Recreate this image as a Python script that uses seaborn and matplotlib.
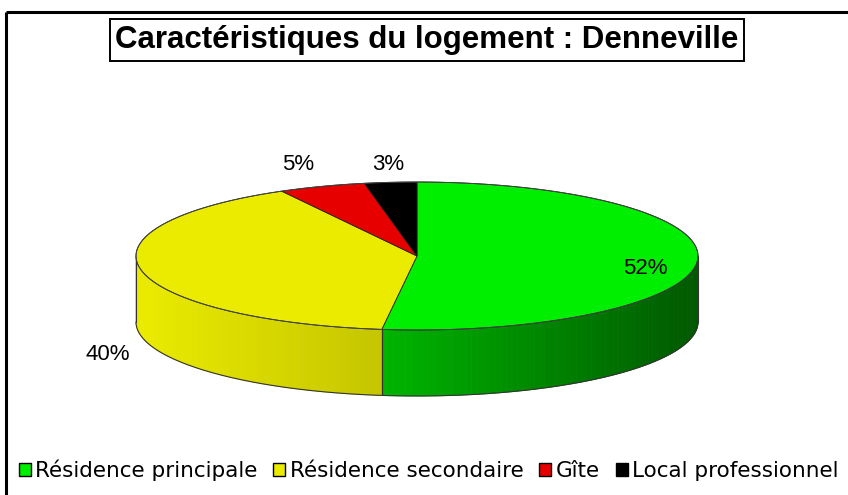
import numpy as np
import seaborn as sns
import matplotlib.pyplot as plt
from matplotlib.patches import Patch
from matplotlib.colors import to_rgb

# data
categories = ["Résidence principale", "Résidence secondaire", "Gîte", "Local professionnel"]
shares = [52, 40, 5, 3]
pct_labels = ["52%", "40%", "5%", "3%"]
title = "Caractéristiques du logement : Denneville"

# styling
top_colors = ["#00ee00", "#ebeb00", "#e60000", "#000000"]
side_shade = [(0.76, 0.37), (1.0, 0.84), (0.7, 0.5), (1.0, 1.0)]  # left -> right
label_xy = [(645, 268), (108, 355), (298, 164), (388, 164)]

sns.set_theme(style="white")
plt.rcParams['font.family'] = ['Liberation Sans', 'DejaVu Sans']
plt.rcParams['text.color'] = 'black'

fig = plt.figure(figsize=(8.48, 4.95), dpi=100)
ax = fig.add_axes([0, 0, 1, 1])
ax.set_xlim(0, 848)
ax.set_ylim(495, 0)
ax.axis("off")

cx, cy, rx, ry, depth = 417, 256, 281, 74, 66


def pt(theta_deg, dy=0):
    t = np.radians(theta_deg)
    return cx + rx * np.cos(t), cy - ry * np.sin(t) + dy


# wedge angles: start at 12 o'clock, clockwise
fracs = np.array(shares) / np.sum(shares)
ends = 90 - 360 * np.cumsum(fracs)
starts = np.concatenate([[90], ends[:-1]])

# side (front half only)
for s, e, col, (lshade, rshade) in zip(starts, ends, top_colors, side_shade):
    lo, hi = e % 360, s % 360
    if hi <= lo:
        hi += 360
    for base in (0, 360):
        a0 = max(lo, 180 + base)
        a1 = min(hi, 360 + base)
        if a1 <= a0:
            continue
        angs = np.linspace(a0, a1, 80)
        xs = [pt(a)[0] for a in angs]
        xmin, xmax = min(xs), max(xs)
        rgb = np.array(to_rgb(col))
        for i in range(len(angs) - 1):
            p0, p1 = pt(angs[i]), pt(angs[i + 1])
            xm = 0.5 * (p0[0] + p1[0])
            f = lshade + (rshade - lshade) * (xm - xmin) / max(xmax - xmin, 1)
            c = np.clip(rgb * f, 0, 1)
            ax.fill([p0[0], p1[0], p1[0], p0[0]],
                    [p0[1], p1[1], p1[1] + depth, p0[1] + depth],
                    color=c, lw=0.6, ec=c, zorder=2)
        for a in (a0, a1):
            x0, y0 = pt(a)
            ax.plot([x0, x0], [y0, y0 + depth], color="#333333", lw=0.8, zorder=3)

front = np.linspace(180, 360, 200)
ax.plot([pt(a)[0] for a in front], [pt(a, depth)[1] for a in front], color="#333333", lw=0.8, zorder=3)

# top wedges
for s, e, col in zip(starts, ends, top_colors):
    angs = np.linspace(s, e, 120)
    xs = [cx] + [pt(a)[0] for a in angs]
    ys = [cy] + [pt(a)[1] for a in angs]
    ax.fill(xs, ys, color=col, ec="#222222", lw=0.6, zorder=4)

full = np.linspace(0, 360, 300)
ax.plot([pt(a)[0] for a in full], [pt(a)[1] for a in full], color="#444444", lw=0.7, zorder=5)

# percentage labels
for lab, (x, y) in zip(pct_labels, label_xy):
    ax.text(x, y, lab, fontsize=16, ha="center", va="center", color="black", zorder=6)

# title
ax.text(427, 40, title, fontsize=22.5, fontweight="bold", ha="center", va="center", color="black",
        bbox=dict(boxstyle="square,pad=0.18", fc="white", ec="black", lw=1.4))

# chart frame (top and left edges)
ax.plot([6, 848], [12, 12], color="black", lw=2.2, solid_capstyle="butt")
ax.plot([6, 6], [12, 495], color="black", lw=2.2, solid_capstyle="butt")

handles = [Patch(facecolor=c, edgecolor="black", lw=1) for c in top_colors]
fig.legend(handles, categories, loc="center left", bbox_to_anchor=(0.012, 0.05),
           ncol=4, frameon=False, prop={"family": "DejaVu Sans", "size": 15.5},
           handlelength=0.55, handleheight=0.55, labelcolor="black",
           handletextpad=0.2, columnspacing=0.75, borderaxespad=0)

fig.savefig("out.png", dpi=100)
